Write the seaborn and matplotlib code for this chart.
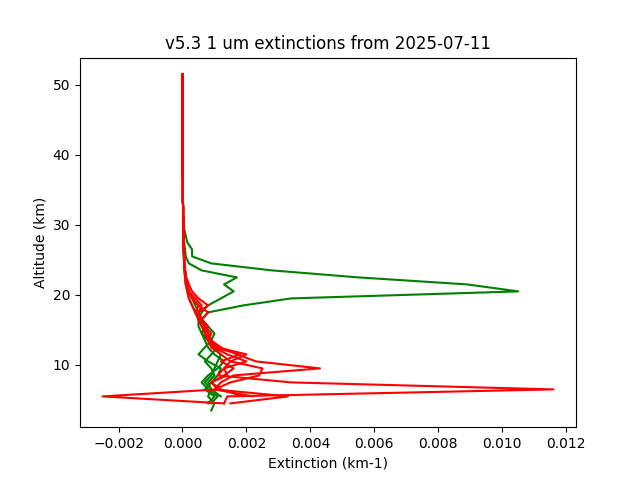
import numpy as np
import pandas as pd
import matplotlib
matplotlib.use("Agg")
import matplotlib.pyplot as plt
import seaborn as sns

nan = np.nan
alt_low = [3.5, 4.5, 5.5, 6.5, 7.5, 8.5, 9.5, 10.5, 11.5, 12.5, 13.5, 14.5, 15.5, 16.5,
           17.5, 18.5, 19.5, 20.5, 21.5, 22.5, 23.5, 24.5, 25.5, 26.5, 27.5, 28.5, 29.5]
alt_high = [30.5, 31.5, 32.5, 33.5, 34.5, 35.5, 36.5, 37.5, 38.5, 39.5, 40.5, 41.5,
            42.5, 43.5, 44.5, 45.5, 46.5, 47.5, 48.5, 49.5, 50.5, 51.5]
tail = [0.00003, 0.00002, 0.00002, 0.00001, 0.00001, 0.00001, 0.00001, 0.0, 0.0, 0.0, 0.0,
        0.0, 0.0, 0.0, 0.0, 0.0, 0.0, 0.0, 0.0, 0.0, 0.0, 0.0]

green_1 = [0.0009, 0.0010, 0.0008, 0.0009, 0.0007, 0.0009, 0.0010, 0.0011, 0.0012, 0.0010,
           0.0009, 0.0008, 0.0007, 0.0006, 0.0008, 0.0019, 0.0034, 0.0105, 0.0089, 0.0055,
           0.0028, 0.0009, 0.0003, 0.0003, 0.00015, 0.0001, 0.00005]
green_2 = [nan, 0.0009, 0.0011, 0.0008, 0.0006, 0.0008, 0.0011, 0.0013, 0.0010, 0.0008,
           0.0007, 0.0006, 0.0005, 0.0005, 0.0006, 0.0008, 0.0012, 0.0016, 0.0013, 0.0017,
           0.0006, 0.0002, 0.0001, 0.00008, 0.00005, 0.00004, 0.00003]
green_3 = [nan, 0.0008, 0.0010, 0.0007, 0.0009, 0.0011, 0.0012, 0.0008, 0.0005, 0.0007,
           0.0009, 0.0010, 0.0008, 0.0006, 0.0004, 0.0003, 0.0002, 0.00015, 0.0001, 0.00008,
           0.00006, 0.00005, 0.00004, 0.00003, 0.00003, 0.00003, 0.00003]
green_4 = [nan, nan, 0.0012, 0.0009, 0.0008, 0.0010, 0.0009, 0.0007, 0.0009, 0.0011,
           0.0008, 0.0006, 0.0007, 0.0005, 0.0005, 0.0004, 0.0003, 0.0002, 0.00015, 0.0001,
           0.00008, 0.00006, 0.00005, 0.00004, 0.00003, 0.00003, 0.00003]
red_1 = [nan, 0.0013, -0.0025, 0.0011, 0.0009, 0.0014, 0.0013, 0.0015, 0.0012, 0.0009,
         0.0008, 0.0007, 0.0006, 0.0005, 0.0004, 0.0003, 0.0002, 0.00015, 0.0001, 0.00008,
         0.00006, 0.00005, 0.00004, 0.00003, 0.00003, 0.00003, 0.00003]
red_2 = [nan, 0.0013, 0.0014, 0.0116, 0.0034, 0.0011, 0.0013, 0.0020, 0.0014, 0.0010,
         0.0008, 0.0007, 0.0007, 0.0006, 0.0008, 0.0005, 0.0003, 0.0002, 0.00012, 0.0001,
         0.00008, 0.00006, 0.00005, 0.00004, 0.00003, 0.00003, 0.00003]
red_3 = [nan, 0.0015, 0.0033, 0.0010, 0.0012, 0.0016, 0.0043, 0.0023, 0.0017, 0.0012,
         0.0009, 0.0008, 0.0006, 0.0005, 0.0004, 0.0005, 0.0003, 0.0002, 0.00015, 0.0001,
         0.00008, 0.00006, 0.00005, 0.00004, 0.00003, 0.00003, 0.00003]
red_4 = [nan, nan, 0.0022, 0.0010, 0.0015, 0.0024, 0.0025, 0.0015, 0.0020, 0.0011,
         0.0009, 0.0007, 0.0008, 0.0006, 0.0005, 0.0006, 0.0004, 0.0002, 0.00015, 0.0001,
         0.00008, 0.00006, 0.00005, 0.00004, 0.00003, 0.00003, 0.00003]
red_5 = [nan, nan, 0.0019, 0.0012, 0.0009, 0.0013, 0.0016, 0.0012, 0.0018, 0.0010,
         0.0008, 0.0009, 0.0007, 0.0006, 0.0005, 0.0008, 0.0005, 0.0003, 0.0002, 0.00012,
         0.00008, 0.00006, 0.00005, 0.00004, 0.00003, 0.00003, 0.00003]

profiles = [("green", green_1), ("green", green_2), ("green", green_3), ("green", green_4),
            ("red", red_1), ("red", red_2), ("red", red_3), ("red", red_4), ("red", red_5)]

fig, ax = plt.subplots(figsize=(6.4, 4.8), dpi=100)
alts = alt_low + alt_high
for color, vals in profiles:
    df = pd.DataFrame({"ext": vals + tail, "alt": alts}).dropna()
    sns.lineplot(data=df, x="ext", y="alt", sort=False, estimator=None, color=color, ax=ax)

ax.set_title("v5.3 1 um extinctions from 2025-07-11")
ax.set_xlabel("Extinction (km-1)")
ax.set_ylabel("Altitude (km)")
ax.set_xticks([-0.002, 0.0, 0.002, 0.004, 0.006, 0.008, 0.010, 0.012])
fig.savefig("out.png")
